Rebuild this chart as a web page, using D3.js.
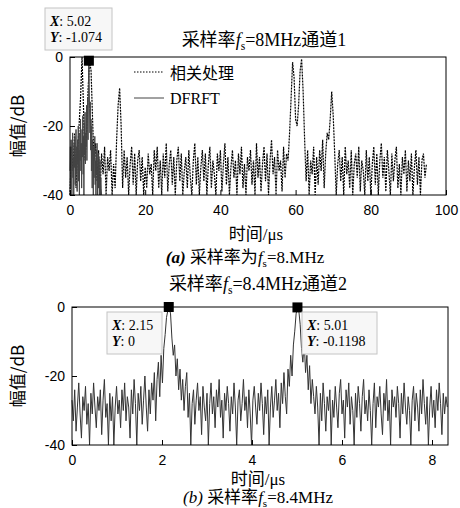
<!DOCTYPE html>
<html>
<head>
<meta charset="utf-8">
<script src="https://cdn.jsdelivr.net/npm/d3@7"></script>
<style>
  body { margin: 0; background: #fff; }
  svg { display: block; }
  .tick text { font-family: "Liberation Sans", Arial, sans-serif; font-size: 14px; fill: #000; }
  .serif { font-family: "Liberation Serif", "Times New Roman", "Noto Sans CJK SC", serif; fill: #000; }
</style>
</head>
<body>
<svg id="chart" width="460" height="508"></svg>
<script>
// ---------------------
//      DATA
// ---------------------
// panel (a): fs = 8 MHz, time step of the sampled curves
const stepA = 0.4;     // 相关处理, us
const stepDf = 0.1;    // DFRFT, us
const corrA = [
  -40, -26, -33, -22, -38, -28, -20, -12, 0, -15,
  -30, -22, -10, -1, -4, -18, -30, -25, -36, -27,
  -39, -28, -34, -26, -40, -29, -33, -27, -40, -31,
  -38, -24, -14, -9, -20, -38, -27, -35, -29, -40,
  -31, -26, -37, -28, -40, -30, -27, -36, -29, -40,
  -32, -38, -28, -34, -31, -40, -27, -33, -26, -38,
  -30, -40, -28, -35, -25, -39, -31, -27, -37, -29,
  -40, -30, -26, -36, -28, -40, -33, -29, -38, -27,
  -35, -40, -30, -25, -37, -29, -40, -32, -27, -36,
  -28, -40, -31, -26, -38, -30, -34, -40, -28, -33,
  -27, -39, -31, -25, -37, -29, -40, -32, -27, -35,
  -30, -40, -28, -34, -26, -38, -31, -40, -29, -33,
  -27, -37, -30, -40, -25, -35, -29, -39, -31, -26,
  -36, -28, -40, -30, -24, -34, -29, -40, -27, -33,
  -30, -39, -26, -35, -28, -30, -22, -12, -1.5, -6,
  -18, -20, -14, -4, -0.6, -10, -24, -36, -27, -40,
  -30, -34, -26, -40, -29, -37, -27, -33, -24, -38,
  -28, -22, -24, -18, -10, -17, -28, -40, -31, -27,
  -36, -29, -40, -26, -34, -30, -38, -27, -40, -31,
  -28, -35, -26, -39, -30, -33, -40, -27, -36, -29,
  -40, -31, -26, -37, -28, -40, -30, -25, -35, -29,
  -39, -27, -33, -40, -28, -36, -30, -26, -38, -31,
  -40, -29, -34, -27, -39, -30, -36, -28, -40, -32,
  -27, -37, -29, -40, -30, -28, -35, -31
];
const dfrftA = [
  -33, -26, -38, -24, -30, -40, -27, -22, -35, -29,
  -40, -25, -32, -23, -37, -28, -21, -34, -26, -39,
  -24, -31, -20, -36, -27, -40, -22, -30, -18, -33,
  -25, -38, -21, -29, -17, -34, -23, -40, -19, -28,
  -16, -31, -22, -26, -14, -30, -19, -12, -24, -8,
  -1.074, -6, -15, -22, -13, -27, -18, -33, -20, -38,
  -24, -29, -40, -26, -35, -28, -23, -37, -30, -40,
  -27, -34, -25, -40, -31, -28, -38, -29, -40, -33,
  -30, -40, -35, -38, -40
];

// panel (b): fs = 8.4 MHz
const stepB = 0.03;
const dfrftB = [
  -27, -33, -24, -36, -29, -22, -31, -38, -26, -30,
  -23, -34, -28, -40, -25, -31, -22, -29, -35, -26,
  -30, -24, -37, -27, -21, -32, -28, -40, -25, -33,
  -26, -40, -29, -23, -31, -27, -35, -24, -30, -22,
  -33, -26, -29, -38, -24, -31, -21, -28, -40, -25,
  -30, -23, -34, -27, -20, -29, -36, -24, -31, -22,
  -27, -19, -33, -21, -16, -26, -14, -22, -12, -8,
  -3, -1, 0, -2, -9, -14, -11, -20, -15, -24,
  -18, -27, -21, -30, -23, -19, -32, -25, -40, -28,
  -24, -34, -27, -22, -30, -26, -37, -23, -29, -33,
  -25, -40, -28, -22, -31, -26, -35, -24, -29, -21,
  -32, -27, -38, -25, -30, -23, -28, -36, -26, -31,
  -22, -29, -40, -27, -24, -33, -28, -21, -30, -26,
  -35, -24, -31, -40, -27, -23, -29, -34, -25, -30,
  -22, -28, -37, -26, -31, -24, -40, -29, -23, -32,
  -27, -21, -30, -25, -35, -22, -28, -19, -26, -31,
  -18, -23, -14, -20, -11, -7, -2, -0.12, -1, -5,
  -12, -16, -10, -19, -14, -24, -17, -28, -21, -26,
  -31, -23, -29, -40, -25, -33, -22, -28, -36, -26,
  -30, -24, -40, -27, -32, -23, -29, -35, -25, -21,
  -31, -27, -38, -24, -29, -22, -34, -26, -30, -40,
  -25, -32, -23, -28, -36, -26, -21, -31, -27, -33,
  -24, -30, -40, -28, -22, -35, -26, -29, -23, -31,
  -37, -25, -30, -21, -33, -27, -40, -24, -29, -26,
  -32, -23, -28, -38, -25, -31, -22, -29, -34, -26,
  -30, -40, -27, -23, -33, -25, -29, -36, -24, -31,
  -21, -28, -34, -26, -40, -29, -23, -32, -27, -35,
  -24, -30, -22, -28, -37, -25, -31, -26, -29
];

const yTicks = [0, -20, -40];
const xTicksA = [0, 20, 40, 60, 80, 100];
const xTicksB = [0, 2, 4, 6, 8];
const tipsA = [{ x: 5.02, y: -1.074 }];
const tipsB = [{ x: 2.15, y: 0 }, { x: 5.01, y: -0.1198 }];

const svg = d3.select("#chart");

function toPoints(values, step) {
    return values.map((v, i) => ({ t: i * step, v: v }));
}

// ---------------------
//   one subplot
// ---------------------
function drawPanel(cfg) {
    const x = d3.scaleLinear().domain(cfg.xDomain).range([cfg.left, cfg.right]);
    const y = d3.scaleLinear().domain([-40, 0]).range([cfg.bottom, cfg.top]);

    const g = svg.append("g");

    // inward ticks, like matlab
    g.append("g")
        .attr("transform", `translate(0,${cfg.bottom})`)
        .call(d3.axisBottom(x).tickValues(cfg.xTicks).tickSize(-5).tickPadding(10).tickFormat(d3.format("d")))
        .call(a => a.select(".domain").remove());
    g.append("g")
        .attr("transform", `translate(${cfg.left},0)`)
        .call(d3.axisLeft(y).tickValues(yTicks).tickSize(-5).tickPadding(7).tickFormat(d => String(d)))
        .call(a => a.select(".domain").remove());
    g.selectAll(".tick line").attr("stroke", "#000");

    const line = d3.line().x(d => x(d.t)).y(d => y(d.v));

    cfg.series.forEach(s => {
        g.append("path")
            .datum(s.points)
            .attr("fill", "none")
            .attr("stroke", s.color)
            .attr("stroke-width", s.width)
            .attr("stroke-dasharray", s.dash || null)
            .attr("d", line);
    });

    // box
    g.append("rect")
        .attr("x", cfg.left).attr("y", cfg.top)
        .attr("width", cfg.right - cfg.left).attr("height", cfg.bottom - cfg.top)
        .attr("fill", "none").attr("stroke", "#000").attr("stroke-width", 1);

    // data tip markers
    cfg.tips.forEach(tp => {
        g.append("rect")
            .attr("x", x(tp.x) - 5).attr("y", y(tp.y) - 5)
            .attr("width", 10).attr("height", 10)
            .attr("fill", "#000");
    });

    // y label
    g.append("text")
        .attr("transform", `translate(${cfg.ylabelX},${(cfg.top + cfg.bottom) / 2}) rotate(-90)`)
        .attr("text-anchor", "middle")
        .attr("font-family", "'Noto Sans CJK SC', sans-serif")
        .attr("font-size", 17)
        .text("幅值/dB");

    // x label
    g.append("text")
        .attr("class", "serif")
        .attr("x", (cfg.left + cfg.right) / 2 - 2)
        .attr("y", cfg.xlabelY)
        .attr("text-anchor", "middle")
        .attr("font-size", 17)
        .text("时间/μs");

    return { x, y };
}

function tipBox(bx, by, w, tp) {
    svg.append("rect")
        .attr("x", bx).attr("y", by).attr("width", w).attr("height", 42)
        .attr("fill", "#f7f7f7").attr("stroke", "#c4c4c4");
    const rows = [["X", tp.x], ["Y", tp.y]];
    rows.forEach((r, i) => {
        const t = svg.append("text").attr("class", "serif")
            .attr("x", bx + 5).attr("y", by + 18 + i * 16)
            .attr("font-size", 14);
        t.append("tspan").attr("font-style", "italic").attr("font-weight", "bold").text(r[0]);
        t.append("tspan").text(": " + r[1]);
    });
}

// title text with italic f and subscript s
function fsText(cx, cy, size, before, after, anchor) {
    const t = svg.append("text").attr("class", "serif")
        .attr("x", cx).attr("y", cy)
        .attr("text-anchor", anchor || "middle")
        .attr("font-size", size);
    before.forEach(b => {
        const s = t.append("tspan").text(b.text);
        if (b.italic) s.attr("font-style", "italic");
        if (b.bold) s.attr("font-weight", "bold");
    });
    t.append("tspan").attr("font-style", "italic").text("f");
    t.append("tspan").attr("font-size", size * 0.65).attr("dy", 4).text("s");
    t.append("tspan").attr("dy", -4).text(after);
    return t;
}

// ---------------------
//   panel (a)
// ---------------------
drawPanel({
    left: 70, right: 446, top: 57, bottom: 195,
    xDomain: [0, 100], xTicks: xTicksA,
    ylabelX: 24, xlabelY: 240,
    tips: tipsA,
    series: [
        { points: toPoints(corrA, stepA), color: "#000", width: 1.2, dash: "2,1" },
        { points: toPoints(dfrftA, stepDf), color: "#444", width: 1 }
    ]
});
tipBox(45, 8, 67, tipsA[0]);
fsText(264, 46, 18, [{ text: "采样率" }], "=8MHz通道1");

// legend
svg.append("line").attr("x1", 134).attr("x2", 164).attr("y1", 72).attr("y2", 72)
    .attr("stroke", "#000").attr("stroke-dasharray", "1.5,1.5");
svg.append("line").attr("x1", 134).attr("x2", 164).attr("y1", 98).attr("y2", 98)
    .attr("stroke", "#444");
svg.append("text").attr("class", "serif").attr("x", 170).attr("y", 79)
    .attr("font-size", 16).text("相关处理");
svg.append("text").attr("class", "serif").attr("x", 170).attr("y", 104)
    .attr("font-size", 16).text("DFRFT");

fsText(245, 263, 17, [{ text: "(a)", italic: true, bold: true }, { text: " 采样率为" }], "=8.MHz");

// ---------------------
//   panel (b)
// ---------------------
drawPanel({
    left: 72, right: 448, top: 307, bottom: 445,
    xDomain: [0, 376 / 45], xTicks: xTicksB,
    ylabelX: 24, xlabelY: 485,
    tips: tipsB,
    series: [
        { points: toPoints(dfrftB, stepB), color: "#333", width: 1 }
    ]
});
tipBox(107, 312, 55, tipsB[0]);
tipBox(302, 312, 75, tipsB[1]);
fsText(258, 290, 18, [{ text: "采样率" }], "=8.4MHz通道2");
fsText(258, 503, 17, [{ text: "(b)", italic: true }, { text: " 采样率" }], "=8.4MHz");
</script>
</body>
</html>
